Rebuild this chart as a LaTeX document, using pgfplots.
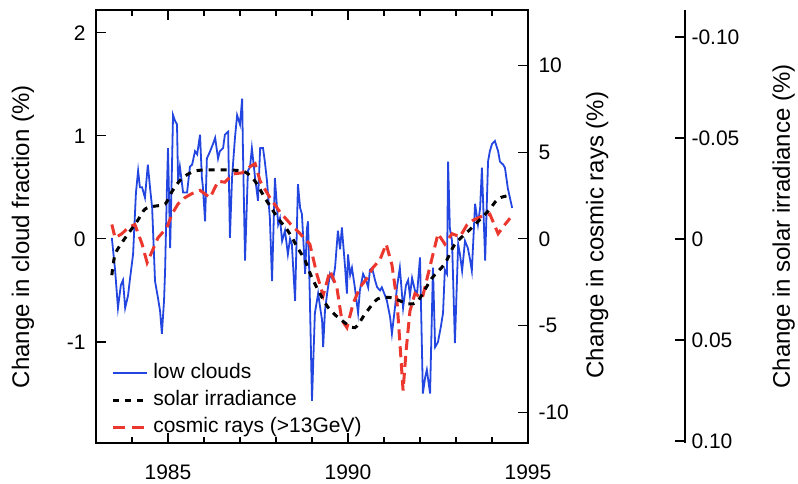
\documentclass[border=0pt]{standalone}
\usepackage{fontspec}
\setmainfont{Liberation Sans}
\usepackage{pgfplots}
\pgfplotsset{compat=1.18}
\definecolor{cloudblue}{RGB}{35,70,225}
\definecolor{crred}{RGB}{235,55,45}
\newcommand{\tickfont}{\fontsize{21}{25}\selectfont}
\newcommand{\labfont}{\fontsize{24}{28}\selectfont}
\pgfplotsset{
  myax/.style={scale only axis, width=432pt, height=433pt, at={(0pt,0pt)}, anchor=south west,
    xmin=1983, xmax=1995, tick align=inside, major tick length=10pt, minor tick length=6pt,
    every tick/.append style={line width=1.2pt, black},
    axis line style={line width=1.3pt},
    tick label style={font=\tickfont},
    /pgf/number format/assume math mode=true, scaled ticks=false},
}
\begin{document}
\begin{tikzpicture}
\begin{axis}[myax, ymin=-1.98, ymax=2.22,
  xtick={1985,1990,1995}, xticklabels={1985,1990,1995},
  minor xtick={1984,1986,1987,1988,1989,1991,1992,1993,1994},
  ytick={-1,0,1,2}, yticklabels={-1,0,1,2}, ytick pos=left,
  xticklabel style={yshift=-18pt}, yticklabel style={xshift=-7pt},
  ylabel={Change in cloud fraction (\%)},
  every axis y label/.style={at={(axis description cs:-0.169,0.476)}, rotate=90, anchor=center, font=\labfont},
  legend style={at={(axis description cs:0.035,0.011)}, anchor=south west, draw=none, fill=none,
    font=\tickfont, row sep=5pt, inner sep=0pt, column sep=4pt,
    nodes={inner sep=1pt, text height=15pt, text depth=5pt}},
  legend cell align=left,
  legend image code/.code={\draw[#1] (0pt,0pt) -- (34pt,0pt);}]
\addplot[cloudblue, line width=1.8pt] coordinates {
(1983.44,0.01)(1983.53,-0.30)(1983.61,-0.67)(1983.69,-0.45)(1983.75,-0.40)(1983.81,-0.67)(1983.89,-0.55)(1983.94,-0.40)(1984.03,-0.15)(1984.11,0.45)(1984.17,0.66)(1984.22,0.50)(1984.28,0.50)(1984.36,0.40)(1984.44,0.72)(1984.50,0.50)(1984.56,0.30)(1984.64,-0.41)(1984.72,-0.57)(1984.78,-0.70)(1984.83,-0.92)(1984.89,-0.60)(1984.92,-0.30)(1984.97,0.49)(1985.00,0.88)(1985.06,-0.09)(1985.11,0.70)(1985.14,1.20)(1985.19,1.15)(1985.25,1.11)(1985.28,0.56)(1985.33,0.70)(1985.42,0.45)(1985.53,0.45)(1985.61,0.70)(1985.67,0.72)(1985.75,0.85)(1985.81,0.82)(1985.89,1.01)(1985.94,0.60)(1985.97,0.50)(1986.03,0.17)(1986.08,0.78)(1986.17,0.85)(1986.25,0.92)(1986.31,0.98)(1986.39,0.78)(1986.44,0.85)(1986.53,0.88)(1986.58,1.01)(1986.67,1.04)(1986.72,0.01)(1986.78,0.60)(1986.86,0.98)(1986.92,1.20)(1987.00,1.11)(1987.06,1.36)(1987.08,0.90)(1987.14,-0.21)(1987.22,0.66)(1987.28,0.70)(1987.33,0.88)(1987.42,0.59)(1987.50,0.37)(1987.56,0.88)(1987.64,0.88)(1987.69,0.75)(1987.75,0.56)(1987.83,0.20)(1987.89,-0.41)(1987.97,0.59)(1988.06,0.14)(1988.11,0.20)(1988.17,-0.02)(1988.25,0.08)(1988.33,-0.15)(1988.39,0.00)(1988.44,-0.05)(1988.53,-0.60)(1988.61,0.53)(1988.67,0.30)(1988.72,0.24)(1988.81,-0.34)(1988.86,0.10)(1988.89,0.17)(1988.94,-0.57)(1989.00,-1.57)(1989.08,-0.72)(1989.17,-0.53)(1989.22,-0.65)(1989.28,-0.79)(1989.31,-1.05)(1989.36,-0.70)(1989.42,-0.53)(1989.50,-0.34)(1989.58,-0.40)(1989.64,-0.28)(1989.72,0.08)(1989.78,-0.10)(1989.83,0.11)(1989.92,-0.28)(1989.97,-0.53)(1990.00,-0.15)(1990.06,-0.35)(1990.11,-0.28)(1990.19,-0.47)(1990.28,-0.72)(1990.33,-0.50)(1990.42,-0.34)(1990.50,-0.40)(1990.56,-0.47)(1990.61,-0.30)(1990.67,-0.28)(1990.75,-0.40)(1990.81,-0.47)(1990.89,-0.50)(1990.94,-0.47)(1991.03,-0.55)(1991.08,-0.60)(1991.17,-0.76)(1991.22,-0.92)(1991.31,-0.65)(1991.36,-0.47)(1991.44,-0.28)(1991.53,-0.67)(1991.61,-0.45)(1991.67,-0.40)(1991.72,-0.55)(1991.78,-0.38)(1991.86,-0.50)(1991.92,-0.53)(1992.00,-0.18)(1992.08,-1.50)(1992.14,-1.35)(1992.19,-1.27)(1992.28,-1.50)(1992.36,-0.28)(1992.42,-1.05)(1992.50,-1.00)(1992.58,-0.85)(1992.64,-0.72)(1992.69,-0.30)(1992.75,-0.34)(1992.78,0.75)(1992.83,0.10)(1992.89,-0.02)(1992.97,-1.01)(1993.06,-0.05)(1993.11,-0.15)(1993.17,-0.31)(1993.25,-0.02)(1993.33,-0.09)(1993.39,-0.20)(1993.44,-0.31)(1993.53,0.34)(1993.61,0.14)(1993.67,0.30)(1993.72,0.69)(1993.81,-0.21)(1993.89,0.75)(1993.94,0.85)(1994.00,0.92)(1994.08,0.95)(1994.17,0.85)(1994.22,0.75)(1994.31,0.72)(1994.36,0.69)(1994.44,0.49)(1994.56,0.30)
};
\addlegendentry{low clouds}
\addlegendimage{black, line width=3pt, dash pattern=on 6pt off 6pt}
\addlegendentry{solar irradiance}
\addlegendimage{crred, line width=3pt, dash pattern=on 12pt off 7pt}
\addlegendentry{cosmic rays (>13GeV)}
\end{axis}
\begin{axis}[myax, ymin=-11.78, ymax=13.21, hide x axis, axis y line*=right,
  ytick={-10,-5,0,5,10}, yticklabels={-10,-5,0,5,10},
  yticklabel style={xshift=7pt, anchor=west},
  ylabel={Change in cosmic rays (\%)},
  every axis y label/.style={at={(axis description cs:1.16,0.48)}, rotate=90, anchor=center, font=\labfont}]
\addplot[crred, line width=3pt, dash pattern=on 11pt off 6pt] coordinates {
(1983.44,0.83)(1983.53,0.06)(1983.72,0.30)(1983.89,0.65)(1984.08,0.83)(1984.28,-0.30)(1984.42,-1.37)(1984.56,-0.71)(1984.72,0.06)(1984.97,0.65)(1985.11,1.43)(1985.28,2.02)(1985.47,2.38)(1985.67,2.62)(1985.89,2.80)(1986.17,2.38)(1986.39,3.33)(1986.58,3.27)(1986.81,3.75)(1987.06,3.81)(1987.28,4.17)(1987.42,4.34)(1987.56,3.33)(1987.83,2.38)(1988.11,1.55)(1988.39,0.89)(1988.67,0.30)(1988.94,-0.30)(1989.14,-2.08)(1989.31,-3.27)(1989.50,-1.84)(1989.69,-2.80)(1989.83,-4.70)(1989.97,-5.12)(1990.14,-3.75)(1990.33,-2.80)(1990.53,-2.26)(1990.69,-1.67)(1990.89,-1.19)(1991.06,-0.30)(1991.22,-1.49)(1991.36,-3.57)(1991.44,-5.95)(1991.53,-8.75)(1991.61,-6.55)(1991.72,-4.17)(1991.86,-3.15)(1992.06,-3.45)(1992.22,-2.08)(1992.36,-0.89)(1992.50,0.30)(1992.69,-0.30)(1992.89,0.30)(1993.11,0.12)(1993.31,0.83)(1993.47,1.07)(1993.72,1.31)(1993.94,1.43)(1994.17,0.30)(1994.36,0.83)(1994.50,1.19)
};
\end{axis}
\begin{axis}[myax, y dir=reverse, ymin=-0.1134, ymax=0.1010, hide x axis, axis y line*=right,
  ytick={-0.1,-0.05,0,0.05,0.1}, yticklabels={-0.10,-0.05,0,0.05,0.10},
  y axis line style={xshift=157pt}, ytick style={xshift=157pt},
  yticklabel style={xshift=160pt, anchor=west},
  ylabel={Change in solar irradiance (\%)},
  every axis y label/.style={at={(axis description cs:1.592,0.50)}, rotate=90, anchor=center, font=\labfont}]
\addplot[black, line width=3pt, dash pattern=on 6pt off 6pt, smooth] coordinates {
(1983.44,0.0179)(1983.53,0.0077)(1983.75,0.0010)(1984.14,-0.0087)(1984.36,-0.0148)(1984.64,-0.0163)(1984.92,-0.0173)(1985.11,-0.0235)(1985.39,-0.0301)(1985.75,-0.0337)(1986.17,-0.0342)(1986.72,-0.0342)(1987.14,-0.0332)(1987.42,-0.0286)(1987.69,-0.0204)(1988.06,-0.0102)(1988.33,-0.0041)(1988.61,0.0046)(1988.81,0.0107)(1989.03,0.0204)(1989.44,0.0337)(1989.83,0.0403)(1990.19,0.0439)(1990.47,0.0372)(1990.83,0.0296)(1991.22,0.0291)(1991.67,0.0321)(1991.94,0.0306)(1992.33,0.0194)(1992.69,0.0122)(1992.97,0.0026)(1993.44,-0.0056)(1993.89,-0.0138)(1994.17,-0.0199)(1994.44,-0.0214)
};
\end{axis}
\pgfresetboundingbox
\path (-96pt,-40pt) rectangle (702pt,443pt);
\end{tikzpicture}
\end{document}
